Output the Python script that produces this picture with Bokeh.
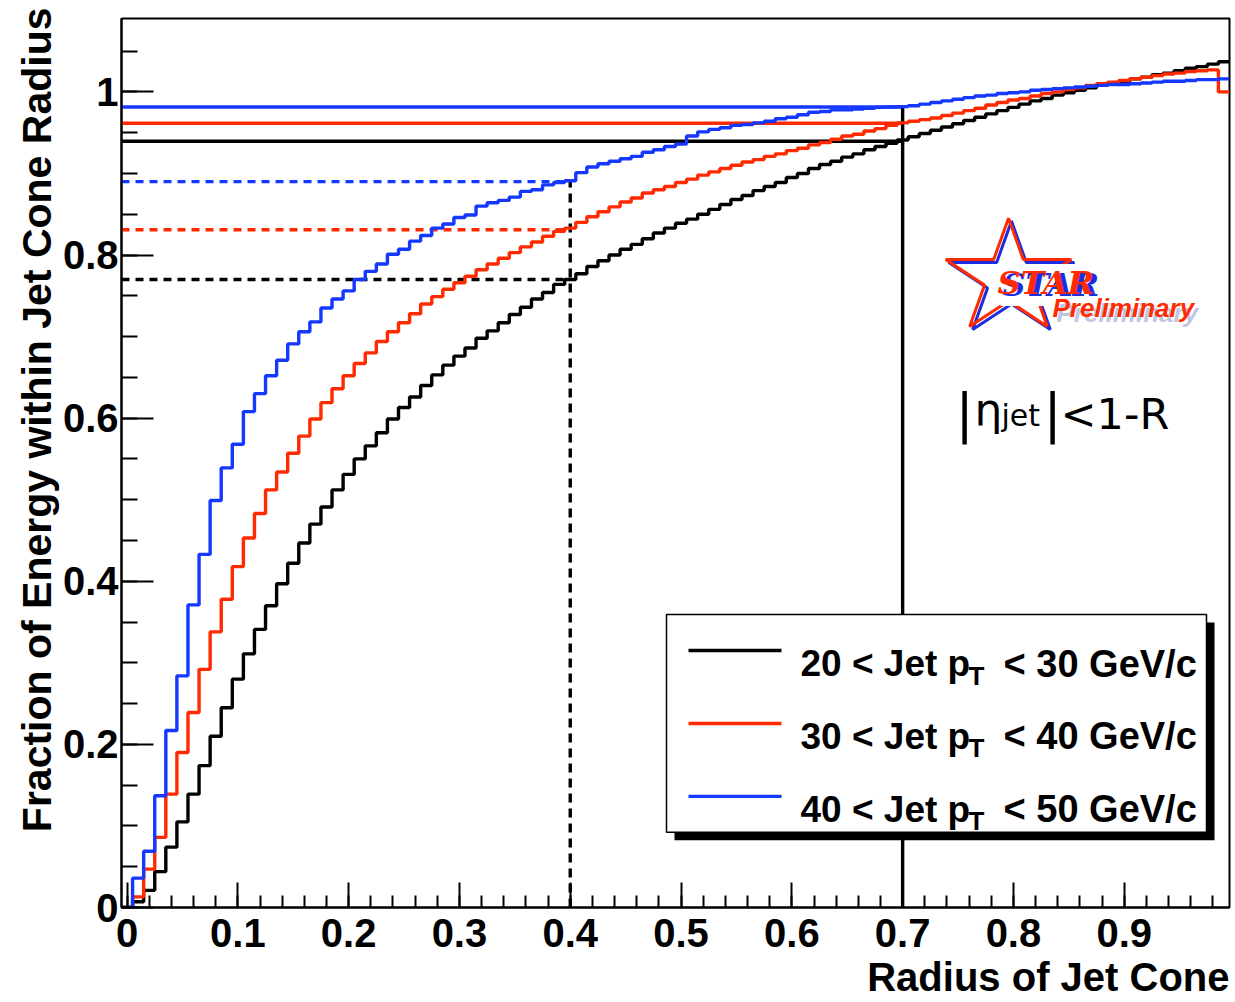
import math
from bokeh.plotting import figure
from bokeh.models import FixedTicker, Range1d, Title
from bokeh.core.properties import value
from bokeh.embed import file_html
from bokeh.resources import INLINE

# ---------------- data ----------------
radius = [round(0.01 * i, 2) for i in range(100)]          # bin centres
bin_width = 0.01

frac_20_30 = [0.0, 0.007, 0.021, 0.044, 0.074, 0.105, 0.139, 0.174, 0.210, 0.245,
              0.280, 0.311, 0.341, 0.370, 0.397, 0.422, 0.447, 0.470, 0.491, 0.512,
              0.531, 0.550, 0.566, 0.582, 0.599, 0.613, 0.626, 0.640, 0.653, 0.665,
              0.676, 0.686, 0.698, 0.707, 0.717, 0.727, 0.736, 0.746, 0.754, 0.764,
              0.770, 0.777, 0.786, 0.793, 0.800, 0.807, 0.813, 0.820, 0.827, 0.833,
              0.839, 0.844, 0.850, 0.856, 0.862, 0.868, 0.873, 0.879, 0.884, 0.889,
              0.895, 0.900, 0.906, 0.911, 0.915, 0.920, 0.924, 0.929, 0.933, 0.937,
              0.941, 0.945, 0.949, 0.953, 0.957, 0.961, 0.965, 0.969, 0.973, 0.977,
              0.981, 0.985, 0.989, 0.992, 0.996, 0.999, 1.002, 1.005, 1.008, 1.011,
              1.013, 1.016, 1.018, 1.021, 1.023, 1.026, 1.029, 1.031, 1.034, 1.037]

frac_30_40 = [0.0, 0.013, 0.047, 0.086, 0.139, 0.190, 0.239, 0.292, 0.338, 0.378,
              0.418, 0.453, 0.483, 0.512, 0.534, 0.557, 0.578, 0.599, 0.619, 0.636,
              0.652, 0.667, 0.680, 0.694, 0.706, 0.717, 0.728, 0.740, 0.749, 0.758,
              0.766, 0.774, 0.782, 0.789, 0.796, 0.803, 0.810, 0.816, 0.823, 0.829,
              0.833, 0.840, 0.847, 0.853, 0.859, 0.865, 0.870, 0.876, 0.880, 0.884,
              0.889, 0.893, 0.898, 0.902, 0.906, 0.910, 0.914, 0.917, 0.921, 0.924,
              0.928, 0.931, 0.935, 0.938, 0.942, 0.946, 0.948, 0.952, 0.955, 0.959,
              0.962, 0.964, 0.966, 0.968, 0.971, 0.974, 0.977, 0.980, 0.984, 0.987,
              0.990, 0.992, 0.995, 0.998, 1.000, 1.003, 1.005, 1.008, 1.010, 1.012,
              1.014, 1.016, 1.018, 1.020, 1.022, 1.023, 1.025, 1.026, 1.027, 1.000]

frac_40_50 = [0.0, 0.036, 0.069, 0.137, 0.217, 0.284, 0.371, 0.433, 0.499, 0.539,
              0.568, 0.608, 0.630, 0.652, 0.671, 0.691, 0.706, 0.718, 0.735, 0.746,
              0.756, 0.770, 0.780, 0.789, 0.801, 0.807, 0.817, 0.824, 0.833, 0.838,
              0.846, 0.849, 0.860, 0.864, 0.867, 0.871, 0.878, 0.880, 0.886, 0.889,
              0.891, 0.901, 0.908, 0.912, 0.915, 0.918, 0.921, 0.926, 0.929, 0.933,
              0.936, 0.946, 0.951, 0.954, 0.956, 0.959, 0.960, 0.962, 0.964, 0.967,
              0.969, 0.972, 0.975, 0.976, 0.978, 0.978, 0.979, 0.980, 0.981, 0.9815,
              0.982, 0.983, 0.985, 0.987, 0.989, 0.991, 0.993, 0.995, 0.996, 0.998,
              0.999, 1.000, 1.002, 1.003, 1.004, 1.005, 1.006, 1.007, 1.008, 1.009,
              1.009, 1.010, 1.011, 1.012, 1.013, 1.013, 1.014, 1.015, 1.015, 1.016]

series = [frac_20_30, frac_30_40, frac_40_50]
series_colors = ["#000000", "#ff2a00", "#1438ff"]
legend_lo = ["20 < Jet p", "30 < Jet p", "40 < Jet p"]
legend_sub = ["T", "T", "T"]
legend_hi = ["< 30 GeV/c", "< 40 GeV/c", "< 50 GeV/c"]

r_dashed = 0.4
r_solid = 0.7
frac_at_r_dashed = [0.770, 0.831, 0.890]
frac_at_r_solid = [0.9395, 0.9616, 0.9815]

x_ticks = [0.0, 0.1, 0.2, 0.3, 0.4, 0.5, 0.6, 0.7, 0.8, 0.9]
x_tick_labels = ["0", "0.1", "0.2", "0.3", "0.4", "0.5", "0.6", "0.7", "0.8", "0.9"]
y_ticks = [0.0, 0.2, 0.4, 0.6, 0.8, 1.0]
y_tick_labels = ["0", "0.2", "0.4", "0.6", "0.8", "1"]

x_title = "Radius of Jet Cone"
y_title = "Fraction of Energy within Jet Cone Radius"

# ---------------- figure ----------------
XMIN, XMAX = -0.005, 0.995
YMIN, YMAX = 0.0, 1.09
W, H = 1235, 1002
FL, FR, FT, FB = 121, 6, 18, 95

p = figure(width=W, height=H, x_range=Range1d(XMIN, XMAX), y_range=Range1d(YMIN, YMAX),
           output_backend="svg", toolbar_location=None,
           min_border_left=FL, min_border_right=FR, min_border_top=FT, min_border_bottom=FB)
p.grid.visible = False
p.outline_line_color = "black"
p.outline_line_width = 2
p.background_fill_color = "white"
p.border_fill_color = "white"

xa = p.xaxis[0]
ya = p.yaxis[0]
xa.ticker = FixedTicker(ticks=x_ticks, minor_ticks=[round(0.02 * i, 2) for i in range(50)])
ya.ticker = FixedTicker(ticks=y_ticks, minor_ticks=[round(0.05 * i, 2) for i in range(22)])
xa.major_label_overrides = {t: l for t, l in zip(x_ticks, x_tick_labels)}
ya.major_label_overrides = {t: l for t, l in zip(y_ticks, y_tick_labels)}
for ax in (xa, ya):
    ax.axis_line_width = 2
    ax.axis_line_color = "black"
    ax.major_tick_line_width = 2
    ax.minor_tick_line_width = 2
    ax.major_tick_out = 0
    ax.minor_tick_out = 0
    ax.major_label_text_font = "Liberation Sans"
    ax.major_label_text_font_style = "bold"
    ax.major_label_text_font_size = "40px"
    ax.major_label_text_color = "black"
xa.major_tick_in = 25
xa.minor_tick_in = 12
ya.major_tick_in = 32
ya.minor_tick_in = 16
xa.major_label_standoff = 11
ya.major_label_standoff = 3

# axis titles as side titles (ROOT style: right / top aligned)
p.add_layout(Title(text=x_title, align="right", standoff=6, text_font="Liberation Sans",
                   text_font_style="bold", text_font_size="40px", text_color="black"), "below")
p.add_layout(Title(text=y_title, align="right", offset=-11, standoff=0,
                   text_font="Liberation Sans", text_font_style="bold",
                   text_font_size="41px", text_color="black"), "left")

# helpers: reference-image pixel -> data (for decorations only)
def dx(px):
    return XMIN + (px - 121.0) / 1108.0 * (XMAX - XMIN)

def dy(py):
    return (907.3 - py) / 816.7

LW = 3.4

# ---------------- reference lines ----------------
n = len(series)
p.segment(x0=[XMIN] * n, y0=frac_at_r_dashed, x1=[r_dashed] * n, y1=frac_at_r_dashed,
          line_color=series_colors, line_width=LW, line_dash="8 6")
p.segment(x0=[r_dashed], y0=[0.0], x1=[r_dashed], y1=[max(frac_at_r_dashed)],
          line_color="black", line_width=LW, line_dash="9 6")
p.segment(x0=[XMIN] * n, y0=frac_at_r_solid, x1=[r_solid] * n, y1=frac_at_r_solid,
          line_color=series_colors, line_width=LW)
p.segment(x0=[r_solid], y0=[0.0], x1=[r_solid], y1=[max(frac_at_r_solid)],
          line_color="black", line_width=LW)

# ---------------- histograms ----------------
edges = [r - bin_width / 2 for r in radius] + [radius[-1] + bin_width / 2]
for vals, col in zip(series, series_colors):
    p.step(x=edges, y=list(vals) + [vals[-1]], mode="after", line_color=col, line_width=LW)

# ---------------- legend (custom, ROOT style with shadow) ----------------
p.quad(left=[dx(674)], right=[dx(1214)], top=[dy(622)], bottom=[dy(840)],
       fill_color="black", line_color=None, level="overlay")
p.quad(left=[dx(666)], right=[dx(1206)], top=[dy(614)], bottom=[dy(832)],
       fill_color="white", line_color="black", line_width=1.5, level="overlay")
row_line = [650, 723, 796]
row_base = [663, 736, 809]
p.segment(x0=[dx(688)] * n, x1=[dx(781)] * n, y0=[dy(r) for r in row_line],
          y1=[dy(r) for r in row_line], line_color=series_colors, line_width=LW, level="overlay")
p.text(x=[dx(800)] * n, y=[dy(b) for b in row_base], text=legend_lo,
       text_font=value("Liberation Sans"), text_font_style="bold", text_font_size="37px",
       text_baseline="alphabetic", text_align="left", text_color="black", level="overlay")
p.text(x=[dx(968)] * n, y=[dy(b + 12) for b in row_base], text=legend_sub,
       text_font=value("Liberation Sans"), text_font_style="bold", text_font_size="26px",
       text_baseline="alphabetic", text_align="left", text_color="black", level="overlay")
p.text(x=[dx(1003)] * n, y=[dy(b) for b in row_base], text=legend_hi,
       text_font=value("Liberation Sans"), text_font_style="bold", text_font_size="38px",
       text_baseline="alphabetic", text_align="left", text_color="black", level="overlay")

# ---------------- STAR Preliminary logo ----------------
def star(cx, cy, R, sx=1.1, ratio=0.382):
    xs, ys = [], []
    for k in range(10):
        a = math.radians(90 + 36 * k)
        rr = R if k % 2 == 0 else R * ratio
        xs.append(dx(cx + sx * rr * math.cos(a)))
        ys.append(dy(cy - rr * math.sin(a)))
    return xs, ys

bx, by = star(1011, 280, 60)
p.patch(bx, by, fill_color=None, line_color="#1a2ee0", line_width=3)
rx, ry = star(1008, 277, 60)
p.patch(rx, ry, fill_color=None, line_color="#ff2a00", line_width=3)
p.text(x=[dx(1000)], y=[dy(284)], text=["STAR"], text_font=value("DejaVu Serif"),
       text_font_style="bold italic", text_font_size="32px", text_color="#1a2ee0",
       text_baseline="alphabetic", background_fill_color="white", padding=2)
p.text(x=[dx(997)], y=[dy(282)], text=["STAR"], text_font=value("DejaVu Serif"),
       text_font_style="bold italic", text_font_size="32px", text_color="#ff2a00",
       text_baseline="alphabetic")
p.text(x=[dx(1056)], y=[dy(312)], text=["Preliminary"], text_font=value("Liberation Sans"),
       text_font_style="bold italic", text_font_size="26px", text_color="#8a92c8",
       text_alpha=0.55, text_baseline="alphabetic")
p.text(x=[dx(1052)], y=[dy(307)], text=["Preliminary"], text_font=value("Liberation Sans"),
       text_font_style="bold italic", text_font_size="26px", text_color="#ff2a00",
       text_baseline="alphabetic")

# ---------------- |eta_jet| < 1-R ----------------
eta_font = value("DejaVu Sans")
p.text(x=[dx(955), dx(1043)], y=[dy(413), dy(413)], text=["|", "|"], text_font=eta_font,
       text_font_size="54px", text_color="black", text_baseline="alphabetic")
p.text(x=[dx(974)], y=[dy(409)], text=["η"], text_font=eta_font,
       text_font_size="44px", text_color="black", text_baseline="alphabetic")
p.text(x=[dx(1001)], y=[dy(415)], text=["jet"], text_font=eta_font,
       text_font_size="30px", text_color="black", text_baseline="alphabetic")
p.text(x=[dx(1060)], y=[dy(413)], text=["<1-R"], text_font=eta_font,
       text_font_size="43px", text_color="black", text_baseline="alphabetic")

open("out.html", "w").write(file_html(p, INLINE))
